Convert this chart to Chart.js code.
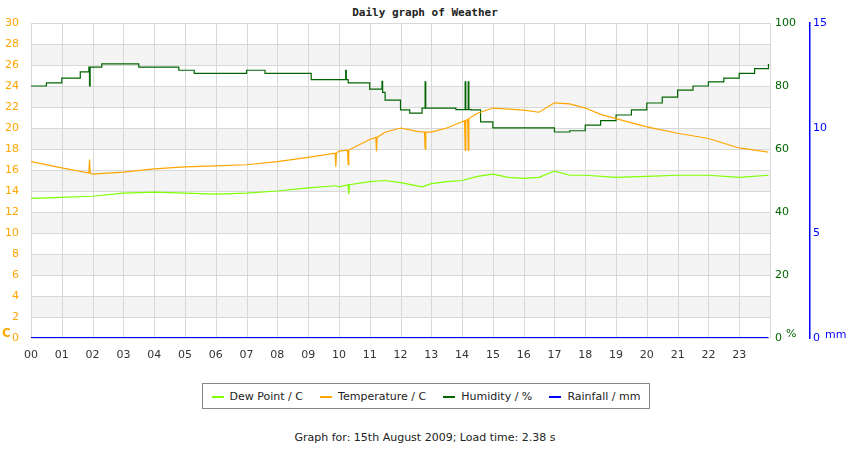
<!DOCTYPE html>
<html>
<head>
<meta charset="utf-8">
<script src="https://cdn.jsdelivr.net/npm/chart.js@4.4.0/dist/chart.umd.min.js"></script>
<style>
  body { margin: 0; background: #fff; font-family: "DejaVu Sans", sans-serif; }
  #wrap { position: relative; width: 850px; height: 450px; }
  #title { position: absolute; top: 6px; left: 0; width: 850px; text-align: center; font: bold 11px "DejaVu Sans Mono", monospace; color: #222; }
  #box { position: absolute; top: 0; left: 0; width: 850px; height: 360px; }
  .unit { position: absolute; font-size: 11px; }
  #legend { position: absolute; top: 383px; left: 202px; width: 446px; height: 24px; border: 1px solid #888; font-size: 11px; color: #222; display: flex; align-items: center; justify-content: space-around; }
  #legend span i { display: inline-block; width: 12px; height: 2px; vertical-align: middle; margin-right: 6px; }
  #foot { position: absolute; top: 431px; left: 0; width: 850px; text-align: center; font-size: 11px; color: #222; }
</style>
</head>
<body>
<div id="wrap">
  <div id="title">Daily graph of Weather</div>
  <div id="box"><canvas id="weatherChart"></canvas></div>
  <div class="unit" style="left:2px;top:326px;color:#ffa500;font-weight:bold;font-size:12px">C</div>
  <div class="unit" style="left:786px;top:327px;color:#006400">%</div>
  <div class="unit" style="left:825px;top:328px;color:#0000ff">mm</div>
  <div id="legend">
    <span><i style="background:#7fff00"></i>Dew Point / C</span>
    <span><i style="background:#ffa500"></i>Temperature / C</span>
    <span><i style="background:#006400"></i>Humidity / %</span>
    <span><i style="background:#0000ff"></i>Rainfall / mm</span>
  </div>
  <div id="foot">Graph for: 15th August 2009; Load time: 2.38 s</div>
</div>
<script>
// hour labels on the x axis
const hourLabels = ['00','01','02','03','04','05','06','07','08','09','10','11','12','13','14','15','16','17','18','19','20','21','22','23'];

// temperature (C)
const tempTimes  = [0, 1, 1.88, 1.9, 1.92, 2, 3, 4, 5, 6, 7, 8, 9, 9.88, 9.9, 9.92, 10, 10.28, 10.3, 10.32, 11, 11.2, 11.22, 11.24, 11.5, 12, 12.5, 12.78, 12.8, 12.82, 13, 13.5, 14, 14.08, 14.1, 14.12, 14.18, 14.2, 14.22, 14.5, 15, 16, 16.5, 17, 17.5, 18, 18.5, 19, 20, 21, 22, 23, 23.95];
const tempValues = [16.8, 16.2, 15.7, 17.0, 15.7, 15.6, 15.8, 16.1, 16.3, 16.4, 16.5, 16.8, 17.2, 17.6, 16.3, 17.6, 17.8, 17.9, 16.5, 17.9, 18.9, 19.1, 17.8, 19.1, 19.6, 20.0, 19.7, 19.6, 18.0, 19.6, 19.6, 20.0, 20.6, 20.7, 17.9, 20.7, 20.8, 17.9, 20.9, 21.4, 21.9, 21.7, 21.5, 22.4, 22.3, 21.9, 21.3, 20.9, 20.1, 19.5, 19.0, 18.1, 17.7];

// dew point (C)
const dewTimes  = [0, 1, 2, 3, 4, 5, 6, 7, 8, 9, 9.9, 10, 10.3, 10.32, 10.34, 11, 11.5, 12, 12.7, 13, 13.5, 14, 14.5, 15, 15.5, 16, 16.5, 17, 17.5, 18, 19, 20, 21, 22, 23, 23.95];
const dewValues = [13.3, 13.4, 13.5, 13.8, 13.9, 13.8, 13.7, 13.8, 14.0, 14.3, 14.5, 14.4, 14.6, 13.7, 14.6, 14.9, 15.0, 14.8, 14.4, 14.7, 14.9, 15.0, 15.4, 15.6, 15.3, 15.2, 15.3, 15.9, 15.5, 15.5, 15.3, 15.4, 15.5, 15.5, 15.3, 15.5];

// humidity (%)
const humTimes  = [0, 0.5, 1, 1.6, 1.88, 1.9, 1.92, 2.3, 3.5, 4.8, 5.3, 7, 7.6, 9.1, 10.2, 10.22, 10.24, 10.3, 11, 11.38, 11.4, 11.42, 11.5, 12, 12.3, 12.7, 12.78, 12.8, 12.82, 13.8, 14.08, 14.1, 14.12, 14.18, 14.2, 14.22, 14.3, 14.6, 15, 16, 17, 17.5, 18, 18.5, 19, 19.5, 20, 20.5, 21, 21.5, 22, 22.5, 23, 23.5, 23.95];
const humValues = [80, 81, 82.5, 84.5, 86, 80, 86, 87, 86, 85, 84, 85, 84, 82, 82, 85, 82, 81, 79, 79, 81.5, 78, 75.5, 72.4, 71.4, 73, 73, 81.3, 73, 72.5, 72.5, 81.3, 72.5, 72.5, 81.3, 72.5, 72.4, 68.6, 66.7, 66.7, 65.4, 65.8, 67.6, 69, 70.8, 72.4, 74.6, 76.5, 78.7, 80, 81.3, 82.5, 84, 85.5, 87];

// rainfall (mm)
const rainTimes  = [0, 23.95];
const rainValues = [0, 0];

const pts = (t, v) => t.map((x, i) => ({ x, y: v[i] }));

const bands = {
  id: 'bands',
  beforeDatasetsDraw(chart) {
    const { ctx, chartArea: a, scales: { y } } = chart;
    ctx.save();
    ctx.fillStyle = '#f4f4f4';
    for (let v = 2; v < 30; v += 4) {
      const t = y.getPixelForValue(v + 2), b = y.getPixelForValue(v);
      ctx.fillRect(a.left, t, a.right - a.left, b - t);
    }
    // grid lines on top of the bands
    ctx.strokeStyle = '#d8d8d8';
    ctx.lineWidth = 1;
    for (let v = 0; v <= 30; v += 2) {
      const p = Math.round(y.getPixelForValue(v)) + 0.5;
      ctx.beginPath(); ctx.moveTo(a.left, p); ctx.lineTo(a.right, p); ctx.stroke();
    }
    const x = chart.scales.x;
    for (let h = 0; h <= 24; h++) {
      const p = Math.round(x.getPixelForValue(h)) + 0.5;
      ctx.beginPath(); ctx.moveTo(p, a.top); ctx.lineTo(p, a.bottom); ctx.stroke();
    }
    ctx.restore();
  }
};

const font = { family: 'DejaVu Sans', size: 11 };

new Chart(document.getElementById('weatherChart'), {
  type: 'line',
  data: {
    datasets: [
      { label: 'Dew Point / C', data: pts(dewTimes, dewValues), borderColor: '#7fff00', yAxisID: 'y', borderWidth: 1.2 },
      { label: 'Temperature / C', data: pts(tempTimes, tempValues), borderColor: '#ffa500', yAxisID: 'y', borderWidth: 1.2 },
      { label: 'Humidity / %', data: pts(humTimes, humValues), borderColor: '#006400', yAxisID: 'hum', borderWidth: 1.2, stepped: true },
      { label: 'Rainfall / mm', data: pts(rainTimes, rainValues), borderColor: '#0000ff', yAxisID: 'rain', borderWidth: 2 }
    ]
  },
  options: {
    responsive: true, maintainAspectRatio: false, animation: false,
    layout: { padding: { top: 23, left: 0, right: 0, bottom: 0 } },
    elements: { point: { radius: 0 }, line: { tension: 0 } },
    plugins: { legend: { display: false }, tooltip: { enabled: false } },
    scales: {
      x: {
        type: 'linear', min: 0, max: 24,
        grid: { display: false }, border: { display: false },
        afterFit: s => { s.height = 22; },
        ticks: { stepSize: 1, autoSkip: false, maxRotation: 0, color: '#333', font,
          callback: v => (v < 24 ? hourLabels[v] : '') }
      },
      y: {
        min: 0, max: 30, position: 'left',
        grid: { display: false }, border: { display: false },
        afterFit: s => { s.width = 31; },
        ticks: { stepSize: 2, color: '#ffa500', font, padding: 4 }
      },
      hum: {
        min: 0, max: 100, position: 'right',
        grid: { display: false, drawTicks: false }, border: { display: false },
        afterFit: s => { s.width = 40; },
        ticks: { stepSize: 20, color: '#006400', font, padding: 5 }
      },
      rain: {
        min: 0, max: 15, position: 'right',
        grid: { display: false, drawTicks: false }, border: { display: true, color: '#0000ff', width: 1.5 },
        afterFit: s => { s.width = 40; },
        ticks: { stepSize: 5, color: '#0000ff', font, padding: 3 }
      }
    }
  },
  plugins: [bands]
});
</script>
</body>
</html>
